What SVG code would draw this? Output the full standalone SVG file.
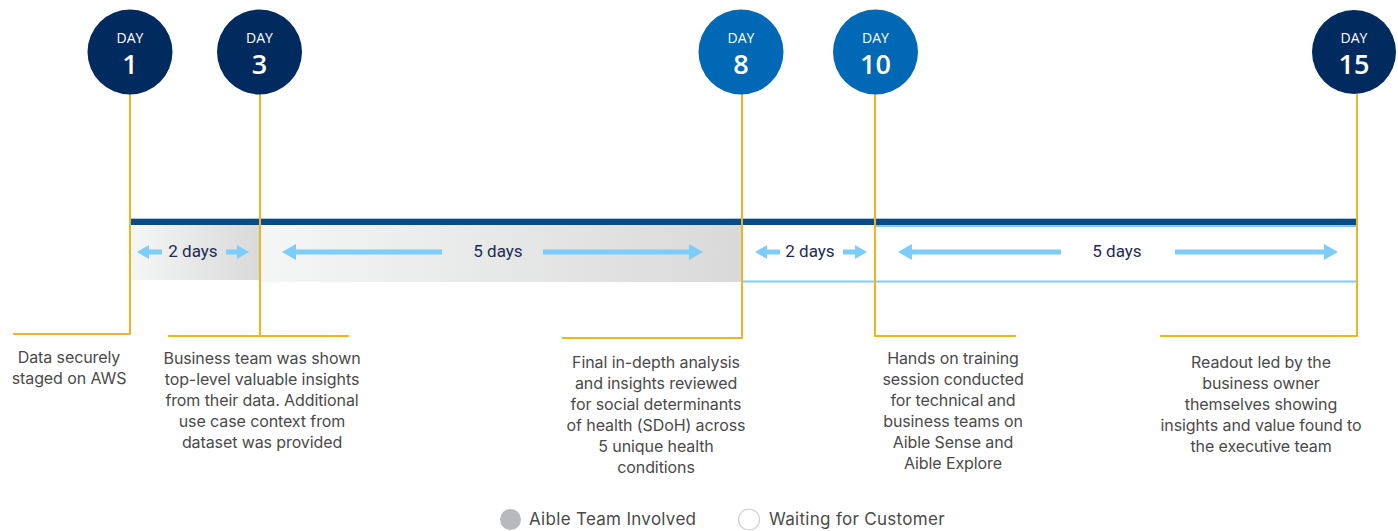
<svg xmlns="http://www.w3.org/2000/svg" width="1398" height="531" viewBox="0 0 1398 531">
<style>
.day-dark{fill:#012a5e}
.day-light{fill:#0068b5}
.day-lbl{font-family:"Open Sans","Liberation Sans",sans-serif;font-size:14px;fill:#ffffff;text-anchor:middle;font-weight:400}
.day-num{font-family:"Open Sans","Liberation Sans",sans-serif;font-size:27px;fill:#ffffff;text-anchor:middle;font-weight:600}
.yl{stroke:#f0b323;stroke-width:2;fill:none}
.desc{font-family:Inter,"Liberation Sans",sans-serif;font-size:16px;fill:#4a4a4a;text-anchor:middle;letter-spacing:-0.1px}
.dur{font-family:Roboto,"Liberation Sans",sans-serif;font-size:17px;fill:#1c2b55;text-anchor:middle}
.arr{fill:#7dcdfc}
.box-w{fill:#ffffff;stroke:#7dcdfc;stroke-width:2}
.legend{font-family:Inter,"Liberation Sans",sans-serif;font-size:17px;fill:#4a4a4a;letter-spacing:0.3px}
</style>
<defs>
<linearGradient id="gray" x1="0" y1="0" x2="1" y2="0">
<stop offset="0" stop-color="#f5f6f6"/>
<stop offset="1" stop-color="#d9d9da"/>
</linearGradient>
</defs>

<g id="periods">
<rect x="130" y="225" width="130" height="55" fill="url(#gray)"/>
<rect x="260" y="225" width="482" height="57" fill="url(#gray)"/>
<path d="M742 281.5 H875 V226" class="box-w" fill="none"/>
<rect x="875" y="226" width="482" height="55.5" class="box-w"/>
</g>

<g id="timeline-bar">
<line x1="130" y1="218.5" x2="1356" y2="218.5" stroke="#a3c6e0" stroke-width="1"/>
<rect x="130" y="219" width="1226" height="6" fill="#0b4a85"/>
</g>

<g id="connectors">
<path class="yl" d="M130 94 V334 H13"/>
<path class="yl" d="M260 94 V336 M168 336 H349"/>
<path class="yl" d="M742 94 V338 H562"/>
<path class="yl" d="M875 94 V336 H1016"/>
<path class="yl" d="M1357 94 V336 H1160"/>
</g>

<g id="durations">
<polygon class="arr" points="137,252 149,245 149,249.5 162,249.5 162,254.5 149,254.5 149,259"/>
<text class="dur" x="193" y="257">2 days</text>
<polygon class="arr" points="249,252 237,245 237,249.5 226,249.5 226,254.5 237,254.5 237,259"/>

<polygon class="arr" points="282,252 296,244 296,249.5 442,249.5 442,254.5 296,254.5 296,260"/>
<text class="dur" x="498" y="257">5 days</text>
<polygon class="arr" points="703,252 689,244 689,249.5 543,249.5 543,254.5 689,254.5 689,260"/>

<polygon class="arr" points="755,252 767,245 767,249.5 780,249.5 780,254.5 767,254.5 767,259"/>
<text class="dur" x="810" y="257">2 days</text>
<polygon class="arr" points="867,252 855,245 855,249.5 843,249.5 843,254.5 855,254.5 855,259"/>

<polygon class="arr" points="898,252 912,244 912,249.5 1061,249.5 1061,254.5 912,254.5 912,260"/>
<text class="dur" x="1117" y="257">5 days</text>
<polygon class="arr" points="1338,252 1324,244 1324,249.5 1175,249.5 1175,254.5 1324,254.5 1324,260"/>
</g>

<g id="day1">
<circle class="day-dark" cx="130" cy="52" r="42.5"/>
<text class="day-lbl" x="130" y="43">DAY</text>
<text class="day-num" x="130" y="73.5">1</text>
<text class="desc" x="69" y="363">Data securely</text>
<text class="desc" x="69" y="384">staged on AWS</text>
</g>

<g id="day3">
<circle class="day-dark" cx="259.5" cy="52" r="42.5"/>
<text class="day-lbl" x="259.5" y="43">DAY</text>
<text class="day-num" x="259.5" y="73.5">3</text>
<text class="desc" x="262" y="364">Business team was shown</text>
<text class="desc" x="262" y="385">top-level valuable insights</text>
<text class="desc" x="262" y="406">from their data. Additional</text>
<text class="desc" x="262" y="427">use case context from</text>
<text class="desc" x="262" y="448">dataset was provided</text>
</g>

<g id="day8">
<circle class="day-light" cx="741" cy="52" r="42.5"/>
<text class="day-lbl" x="741" y="43">DAY</text>
<text class="day-num" x="741" y="73.5">8</text>
<text class="desc" x="656" y="368">Final in-depth analysis</text>
<text class="desc" x="656" y="389">and insights reviewed</text>
<text class="desc" x="656" y="410">for social determinants</text>
<text class="desc" x="656" y="431">of health (SDoH) across</text>
<text class="desc" x="656" y="452">5 unique health</text>
<text class="desc" x="656" y="473">conditions</text>
</g>

<g id="day10">
<circle class="day-light" cx="875.5" cy="52" r="42.5"/>
<text class="day-lbl" x="875.5" y="43">DAY</text>
<text class="day-num" x="875.5" y="73.5">10</text>
<text class="desc" x="953" y="364">Hands on training</text>
<text class="desc" x="953" y="385">session conducted</text>
<text class="desc" x="953" y="406">for technical and</text>
<text class="desc" x="953" y="427">business teams on</text>
<text class="desc" x="953" y="448">Aible Sense and</text>
<text class="desc" x="953" y="469">Aible Explore</text>
</g>

<g id="day15">
<circle class="day-dark" cx="1354" cy="52" r="42"/>
<text class="day-lbl" x="1354" y="43">DAY</text>
<text class="day-num" x="1354" y="73.5">15</text>
<text class="desc" x="1261" y="368">Readout led by the</text>
<text class="desc" x="1261" y="389">business owner</text>
<text class="desc" x="1261" y="410">themselves showing</text>
<text class="desc" x="1261" y="431">insights and value found to</text>
<text class="desc" x="1261" y="452">the executive team</text>
</g>

<g id="legend">
<circle cx="510.5" cy="519.5" r="10.5" fill="#b8b9bc"/>
<text class="legend" x="529" y="525">Aible Team Involved</text>
<circle cx="749" cy="519.5" r="10.5" fill="#ffffff" stroke="#d0d0d0" stroke-width="1.2"/>
<text class="legend" x="769" y="525">Waiting for Customer</text>
</g>
</svg>
